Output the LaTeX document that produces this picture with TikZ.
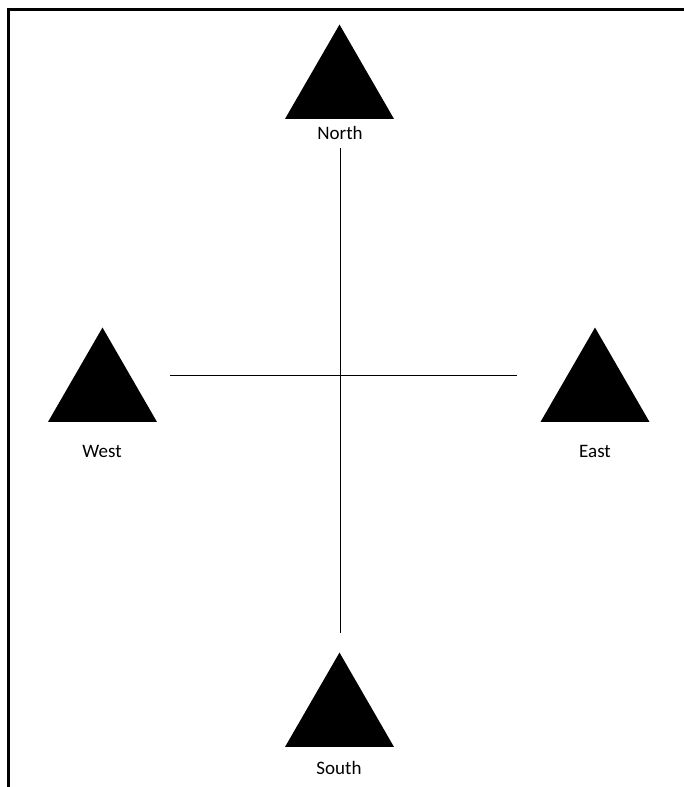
\documentclass[tikz,border=0pt]{standalone}
\usepackage{fontspec}
\setmainfont{Carlito}
\usetikzlibrary{shapes.geometric}

\begin{document}
\begin{tikzpicture}[x=1pt,y=1pt,
tri/.style={regular polygon,regular polygon sides=3,minimum size=125.9pt,inner sep=0pt,fill=black},
lbl/.style={anchor=base,inner sep=0pt,font=\fontsize{19}{23}\selectfont},
crossline/.style={line width=1pt}]
\useasboundingbox (0,0) rectangle (684,-787);
\draw[line width=2.6pt] (684,-9.5) -- (8.5,-9.5) -- (8.5,-787);
\node[tri] (ntri) at (339.5,-87.5) {};
\node[tri] (stri) at (339.5,-715.5) {};
\node[tri] (wtri) at (102.5,-390.5) {};
\node[tri] (etri) at (595,-390.5) {};
\node[lbl] (nlbl) at (340,-139) {North};
\node[lbl] (slbl) at (339,-774) {South};
\node[lbl] (wlbl) at (102,-457) {West};
\node[lbl] (elbl) at (595,-457) {East};
\coordinate (vtop) at (340,-148);
\coordinate (vbot) at (340,-633);
\coordinate (hleft) at (170,-375.5);
\coordinate (hright) at (516.5,-375.5);
\draw[crossline] (vtop) -- (vbot);
\draw[crossline] (hleft) -- (hright);
\end{tikzpicture}
\end{document}
